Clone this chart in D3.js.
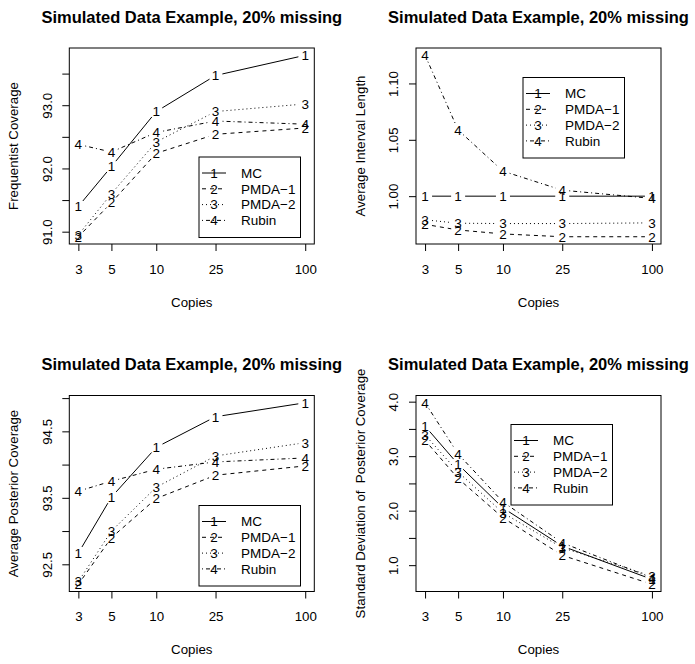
<!DOCTYPE html>
<html>
<head>
<meta charset="utf-8">
<script src="https://d3js.org/d3.v7.min.js"></script>
<style>
body { margin: 0; background: #fff; }
svg text { font-family: "Liberation Sans", Arial, Helvetica, sans-serif; fill: #000; white-space: pre; }
.frame { fill: none; stroke: #000; stroke-width: 1px; }
.tick line { stroke: #000; }
</style>
</head>
<body>
<svg id="chart"></svg>
<script>

var copies = [3, 5, 10, 25, 100];
var methods = ["MC", "PMDA\u22121", "PMDA\u22122", "Rubin"];
var symbols = ["1", "2", "3", "4"];

// Frequentist coverage
var freqMC    = [91.40, 92.03, 92.90, 93.47, 93.79];
var freqPMDA1 = [90.92, 91.46, 92.24, 92.54, 92.64];
var freqPMDA2 = [90.95, 91.60, 92.42, 92.90, 93.02];
var freqRubin = [92.38, 92.26, 92.57, 92.75, 92.70];
var freqTicks  = [91.0, 91.5, 92.0, 92.5, 93.0, 93.5];
var freqLabels = [91.0, 92.0, 93.0];

// Average interval length
var lenMC    = [1.000, 1.000, 1.000, 1.000, 1.000];
var lenPMDA1 = [0.975, 0.970, 0.9665, 0.964, 0.964];
var lenPMDA2 = [0.979, 0.976, 0.9757, 0.9757, 0.9763];
var lenRubin = [1.125, 1.0587, 1.0222, 1.0053, 0.998];
var lenTicks  = [1.00, 1.05, 1.10];
var lenLabels = [1.00, 1.05, 1.10];

// Average posterior coverage
var postMC    = [92.67, 93.51, 94.26, 94.72, 94.93];
var postPMDA1 = [92.20, 92.90, 93.49, 93.84, 93.98];
var postPMDA2 = [92.24, 93.00, 93.66, 94.13, 94.33];
var postRubin = [93.60, 93.75, 93.93, 94.04, 94.10];
var postTicks  = [92.5, 93.0, 93.5, 94.0, 94.5, 95.0];
var postLabels = [92.5, 93.5, 94.5];

// Standard deviation of posterior coverage
var sdMC    = [3.55, 2.85, 2.05, 1.35, 0.74];
var sdPMDA1 = [3.29, 2.59, 1.87, 1.18, 0.65];
var sdPMDA2 = [3.39, 2.71, 1.96, 1.32, 0.80];
var sdRubin = [3.98, 3.04, 2.16, 1.41, 0.77];
var sdTicks  = [1.0, 1.5, 2.0, 2.5, 3.0, 3.5, 4.0];
var sdLabels = [1.0, 2.0, 3.0, 4.0];

var dashes = [null, "4,4", "1,3", "1,3,4,3"];

var W = 695, H = 664;
var boxW = 245, boxH = 196;
var title = "Simulated Data Example, 20% missing";

var svg = d3.select("#chart").attr("width", W).attr("height", H);

var panels = [
    {ylab: "Frequentist Coverage", series: [freqMC, freqPMDA1, freqPMDA2, freqRubin],
     ticks: freqTicks, labels: freqLabels, fmt: ".1f", left: 69.3, top: 48, legend: [199, 157]},
    {ylab: "Average Interval Length", series: [lenMC, lenPMDA1, lenPMDA2, lenRubin],
     ticks: lenTicks, labels: lenLabels, fmt: ".2f", left: 416, top: 48, legend: [523, 77.5]},
    {ylab: "Average Posterior Coverage", series: [postMC, postPMDA1, postPMDA2, postRubin],
     ticks: postTicks, labels: postLabels, fmt: ".1f", left: 69.3, top: 395.5, legend: [199, 505.5]},
    {ylab: "Standard Deviation of  Posterior Coverage", series: [sdMC, sdPMDA1, sdPMDA2, sdRubin],
     ticks: sdTicks, labels: sdLabels, fmt: ".1f", left: 416, top: 395.5, legend: [511, 424.5]}
];

// R style 4% padding
function padded(lo, hi) {
    var p = (hi - lo) * 0.04;
    return [lo - p, hi + p];
}

panels.forEach(function(p) {
    var g = svg.append("g").attr("transform", "translate(" + p.left + "," + p.top + ")");

    var lx = d3.extent(copies).map(Math.log);
    var xd = padded(lx[0], lx[1]).map(Math.exp);
    var x = d3.scaleLog().domain(xd).range([0, boxW]);

    var all = [].concat.apply([], p.series);
    var y = d3.scaleLinear().domain(padded(d3.min(all), d3.max(all))).range([boxH, 0]);

    // lines with gaps around the points (type = "b")
    var gap = 7;
    p.series.forEach(function(vals, i) {
        for (var k = 0; k < vals.length - 1; k++) {
            var x1 = x(copies[k]), y1 = y(vals[k]);
            var x2 = x(copies[k + 1]), y2 = y(vals[k + 1]);
            var len = Math.hypot(x2 - x1, y2 - y1);
            if (len <= 2 * gap) continue;
            var ux = (x2 - x1) / len, uy = (y2 - y1) / len;
            g.append("line")
                .attr("x1", x1 + ux * gap).attr("y1", y1 + uy * gap)
                .attr("x2", x2 - ux * gap).attr("y2", y2 - uy * gap)
                .style("stroke", "#000")
                .style("stroke-width", "1px")
                .style("stroke-dasharray", dashes[i]);
        }
        g.selectAll(null)
            .data(vals)
            .enter().append("text")
            .attr("x", function(d, k) { return x(copies[k]); })
            .attr("y", function(d) { return y(d); })
            .attr("dy", "0.36em")
            .attr("text-anchor", "middle")
            .style("font-size", "13.5px")
            .text(symbols[i]);
    });

    g.append("rect").attr("class", "frame")
        .attr("width", boxW).attr("height", boxH);

    // X axis
    var xa = g.append("g")
        .attr("transform", "translate(0," + boxH + ")")
        .call(d3.axisBottom(x).tickValues(copies).tickSize(7).tickFormat(d3.format("d")));
    xa.select(".domain").remove();
    xa.selectAll("text").attr("y", 29.5).attr("dy", 0).style("font-size", "13.3px");

    // Y axis
    var f = d3.format(p.fmt);
    var ya = g.append("g")
        .call(d3.axisLeft(y).tickValues(p.ticks).tickSize(7)
            .tickFormat(function(d) { return p.labels.indexOf(d) >= 0 ? f(d) : ""; }));
    ya.select(".domain").remove();
    ya.selectAll("text")
        .attr("transform", "rotate(-90)")
        .attr("x", 0).attr("y", -17.6).attr("dy", 0)
        .attr("text-anchor", "middle")
        .style("font-size", "13.3px");

    // Title and axis labels
    g.append("text")
        .attr("x", boxW / 2).attr("y", -25.5)
        .attr("text-anchor", "middle")
        .style("font-size", "16.5px")
        .style("font-weight", "bold")
        .text(title);

    g.append("text")
        .attr("x", boxW / 2).attr("y", boxH + 62.5)
        .attr("text-anchor", "middle")
        .style("font-size", "13.3px")
        .text("Copies");

    g.append("text")
        .attr("transform", "translate(-51.3," + (boxH / 2) + ") rotate(-90)")
        .attr("text-anchor", "middle")
        .style("font-size", "13.3px")
        .text(p.ylab);

    // Legend
    var lg = svg.append("g").attr("transform", "translate(" + p.legend[0] + "," + p.legend[1] + ")");
    lg.append("rect").attr("class", "frame").attr("width", 101.5).attr("height", 80.5);
    methods.forEach(function(m, i) {
        var ry = 16 + i * 15.8;
        lg.append("line")
            .attr("x1", 3).attr("x2", 27).attr("y1", ry).attr("y2", ry)
            .style("stroke", "#000")
            .style("stroke-dasharray", dashes[i]);
        lg.append("text")
            .attr("x", 15).attr("y", ry).attr("dy", "0.36em")
            .attr("text-anchor", "middle")
            .style("font-size", "13.5px")
            .text(symbols[i]);
        lg.append("text")
            .attr("x", 42).attr("y", ry).attr("dy", "0.36em")
            .style("font-size", "13.5px")
            .text(m);
    });
});

</script>
</body>
</html>
